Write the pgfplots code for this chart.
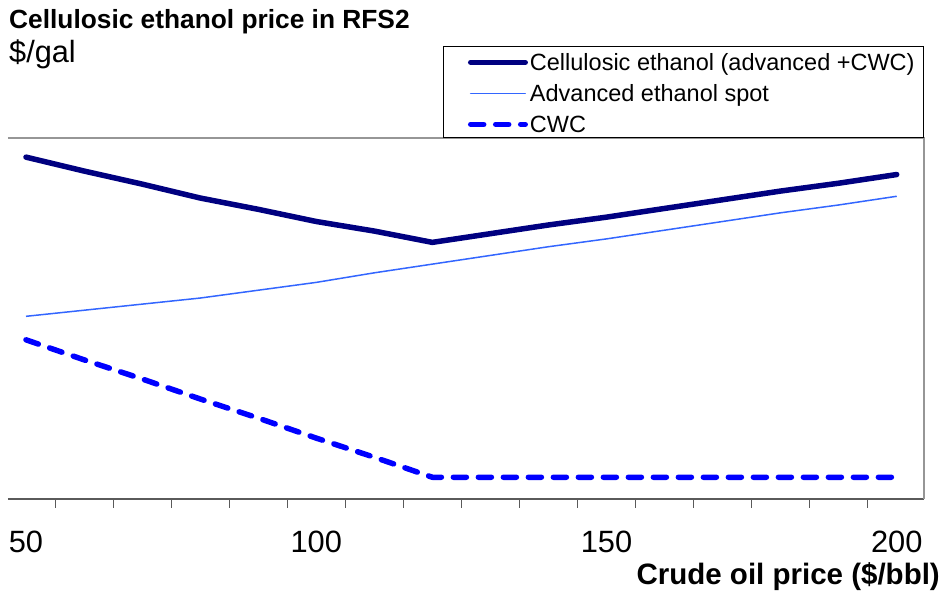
\documentclass[border=0pt]{standalone}
\usepackage{fontspec}
\setmainfont{Liberation Sans}
\usepackage{pgfplots}
\pgfplotsset{compat=1.18}
\definecolor{navyc}{RGB}{0,0,128}
\definecolor{lightb}{RGB}{51,102,255}
\definecolor{cwcb}{RGB}{0,0,255}
\definecolor{axdark}{RGB}{90,90,90}
\definecolor{axgray}{RGB}{150,150,150}
\begin{document}
\begin{tikzpicture}[x=1pt,y=1pt]
\path[use as bounding box] (0,0) rectangle (945,594);
\begin{axis}[
  at={(8pt,95pt)}, anchor=south west,
  scale only axis, width=916pt, height=361pt,
  xmin=46.9, xmax=204.7, ymin=0, ymax=4.15,
  axis line style={draw=none},
  ytick=\empty,
  xtick={55,65,...,205}, xticklabels={},
  xtick pos=bottom,
  tick align=outside,
  major tick length=9pt,
  tick style={axdark, line width=1pt},
  extra x ticks={50,100,150,200},
  extra x tick labels={50,100,150,200},
  extra x tick style={major tick length=0pt, tick style={draw=none}},
  xticklabel style={anchor=base, inner sep=0pt, yshift=-53.7pt},
  tick label style={font=\fontsize{30.8}{36}\selectfont},
  /pgf/number format/assume math mode=true,
  clip=false,
  legend style={at={(0.4749,1.2438)}, anchor=north west, draw=none, fill=none,
    inner sep=0pt, row sep=6.6pt, column sep=2pt,
    nodes={inner sep=0pt, text height=20pt, text depth=4.4pt, font=\fontsize{23.5}{28}\selectfont}},
  legend cell align=left,
  legend image code/.code={\path (0pt,0pt); \draw[#1, line cap=round] (24.75pt,0pt) -- (79.25pt,0pt);},
]
\addplot[navyc, line width=5.5pt, line join=round, line cap=round] coordinates {
(50,3.93) (60,3.77) (70,3.62) (80,3.46) (90,3.33) (100,3.19) (110,3.08) (120,2.95)
(130,3.05) (140,3.15) (150,3.24) (160,3.34) (170,3.44) (180,3.54) (190,3.63) (200,3.73)};
\addlegendentry{Cellulosic ethanol (advanced +CWC)}
\addplot[lightb, line width=1.5pt, line join=round] coordinates {
(50,2.10) (60,2.17) (70,2.24) (80,2.31) (90,2.40) (100,2.49) (110,2.60) (120,2.70)
(130,2.80) (140,2.90) (150,2.99) (160,3.09) (170,3.19) (180,3.29) (190,3.38) (200,3.48)};
\addlegendentry{Advanced ethanol spot}
\addplot[cwcb, line width=5.5pt, line join=round, line cap=round, dash pattern=on 13pt off 12pt] coordinates {
(50,1.83) (60,1.60) (70,1.38) (80,1.15) (90,0.93) (100,0.70) (110,0.48) (120,0.25)
(130,0.25) (140,0.25) (150,0.25) (160,0.25) (170,0.25) (180,0.25) (190,0.25) (200,0.25)};
\addlegendentry{CWC}
\draw[axdark, line width=2pt] (rel axis cs:0,0) -- (rel axis cs:1,0);
\draw[axgray, line width=1.8pt] (rel axis cs:0,1) -- (rel axis cs:1,1) -- (rel axis cs:1,0);
\end{axis}
\draw[black, line width=1pt] (443,547) rectangle (923,456);
\node[anchor=base west, inner sep=0pt, font=\bfseries\fontsize{26.3}{31}\selectfont] at (9,565.5) {Cellulosic ethanol price in RFS2};
\node[anchor=base west, inner sep=0pt, font=\fontsize{30.7}{36}\selectfont] at (9,531.7) {\$/gal};
\node[anchor=base east, inner sep=0pt, font=\bfseries\fontsize{29.5}{35}\selectfont] at (940,9) {Crude oil price (\$/bbl)};
\end{tikzpicture}
\end{document}
